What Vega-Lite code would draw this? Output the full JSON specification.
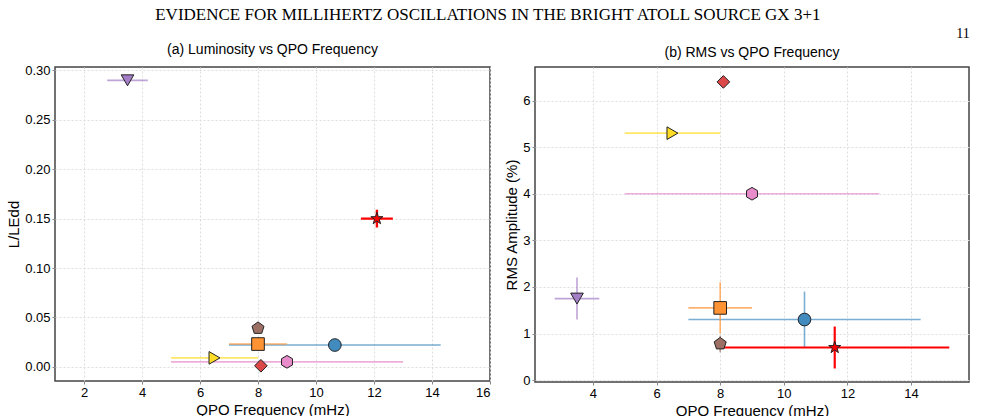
{
  "$schema": "https://vega.github.io/schema/vega-lite/v6.json",
  "title": {"text": "EVIDENCE FOR MILLIHERTZ OSCILLATIONS IN THE BRIGHT ATOLL SOURCE GX 3+1", "anchor": "middle", "font": "Liberation Serif", "fontSize": 17, "fontWeight": "normal", "color": "#000", "offset": 3},
  "vconcat": [
    {
      "title": {"text": "11", "anchor": "end", "font": "Liberation Serif", "fontSize": 14, "fontWeight": "normal", "color": "#000", "offset": 2},
      "spacing": 12,
      "resolve": {"scale": {"color": "independent", "shape": "independent"}, "legend": {"color": "independent", "shape": "independent"}},
      "hconcat": [
        {
          "width": 435,
          "height": 314,
          "title": {"text": "(a) Luminosity vs QPO Frequency", "fontSize": 14, "fontWeight": "normal", "color": "#000", "offset": 7},
          "data": {"values": [
            {"source": "4U 1636-536", "freq": 10.65, "freq_lo": 7.0, "freq_hi": 14.3, "lum": 0.022},
            {"source": "4U 1608-52", "freq": 8.0, "freq_lo": 7.0, "freq_hi": 9.0, "lum": 0.023},
            {"source": "4U 1323-619", "freq": 8.1, "lum": 0.001},
            {"source": "IGR J17480-2446", "freq": 3.5, "freq_lo": 2.8, "freq_hi": 4.2, "lum": 0.29},
            {"source": "GS 1826-238", "freq": 8.0, "lum": 0.039},
            {"source": "EXO 0748-676", "freq": 9.0, "freq_lo": 5.0, "freq_hi": 13.0, "lum": 0.005},
            {"source": "1RXS J180408.9-342058", "freq": 6.5, "freq_lo": 5.0, "freq_hi": 8.0, "lum": 0.009},
            {"source": "GX 3+1 (This work)", "freq": 12.1, "freq_lo": 11.55, "freq_hi": 12.65, "lum": 0.15, "lum_lo": 0.141, "lum_hi": 0.159}
          ]},
          "layer": [
            {
              "transform": [{"filter": {"and": [{"field": "freq_lo", "valid": true}, {"not": {"field": "source", "equal": "GX 3+1 (This work)"}}]}}],
              "mark": {"type": "rule", "strokeWidth": 1.6, "opacity": 0.7},
              "encoding": {
                "x": {"field": "freq_lo", "type": "quantitative", "scale": {"domain": [1, 16], "nice": false, "zero": false}, "axis": {"title": "QPO Frequency (mHz)", "values": [2, 4, 6, 8, 10, 12, 14, 16]}},
                "x2": {"field": "freq_hi"},
                "y": {"field": "lum", "type": "quantitative", "scale": {"domain": [-0.0144, 0.3035], "nice": false, "zero": false}, "axis": {"title": "L/LEdd", "values": [0, 0.05, 0.1, 0.15, 0.2, 0.25, 0.3], "format": ".2f"}},
                "color": {"field": "source", "type": "nominal", "legend": null,
                  "scale": {"domain": ["4U 1636-536", "GS 1826-238", "4U 1608-52", "EXO 0748-676", "4U 1323-619", "1RXS J180408.9-342058", "IGR J17480-2446", "GX 3+1 (This work)"],
                            "range": ["#418bbf", "#9d7066", "#ff9232", "#e78bcb", "#dc4748", "#ffdd26", "#a47ec7", "#ff0000"]}}
              }
            },
            {
              "transform": [{"filter": {"field": "source", "equal": "GX 3+1 (This work)"}}],
              "mark": {"type": "rule", "strokeWidth": 2.4, "color": "#ff0000"},
              "encoding": {
                "x": {"field": "freq_lo", "type": "quantitative"},
                "x2": {"field": "freq_hi"},
                "y": {"field": "lum", "type": "quantitative"}
              }
            },
            {
              "transform": [{"filter": {"field": "source", "equal": "GX 3+1 (This work)"}}],
              "mark": {"type": "rule", "strokeWidth": 2.4, "color": "#ff0000"},
              "encoding": {
                "x": {"field": "freq", "type": "quantitative"},
                "y": {"field": "lum_lo", "type": "quantitative"},
                "y2": {"field": "lum_hi"}
              }
            },
            {
              "mark": {"type": "point", "filled": true, "opacity": 1, "size": 160, "stroke": "#222", "strokeWidth": 1},
              "encoding": {
                "x": {"field": "freq", "type": "quantitative"},
                "y": {"field": "lum", "type": "quantitative"},
                "color": {"field": "source", "type": "nominal", "title": null,
                  "scale": {"domain": ["4U 1636-536", "GS 1826-238", "4U 1608-52", "EXO 0748-676", "4U 1323-619", "1RXS J180408.9-342058", "IGR J17480-2446", "GX 3+1 (This work)"],
                            "range": ["#418bbf", "#9d7066", "#ff9232", "#e78bcb", "#dc4748", "#ffdd26", "#a47ec7", "#ff0000"]},
                  "legend": {"columns": 2, "columnPadding": 14}},
                "shape": {"field": "source", "type": "nominal", "title": null,
                  "scale": {"domain": ["4U 1636-536", "GS 1826-238", "4U 1608-52", "EXO 0748-676", "4U 1323-619", "1RXS J180408.9-342058", "IGR J17480-2446", "GX 3+1 (This work)"],
                            "range": ["circle", "M0,-1L0.951,-0.309L0.588,0.809L-0.588,0.809L-0.951,-0.309Z", "square", "M0,-1L0.866,-0.5L0.866,0.5L0,1L-0.866,0.5L-0.866,-0.5Z", "diamond", "triangle-right", "triangle-down", "M0,-1L0.225,-0.309L0.951,-0.309L0.363,0.118L0.588,0.809L0,0.382L-0.588,0.809L-0.363,0.118L-0.951,-0.309L-0.225,-0.309Z"]},
                  "legend": {"columns": 2, "columnPadding": 14}}
              }
            }
          ]
        },
        {
          "width": 434,
          "height": 315,
          "title": {"text": "(b) RMS vs QPO Frequency", "fontSize": 14, "fontWeight": "normal", "color": "#000", "offset": 7},
          "data": {"values": [
            {"source": "4U 1636-536", "freq": 10.65, "freq_lo": 7.0, "freq_hi": 14.3, "rms": 1.3, "rms_lo": 0.7, "rms_hi": 1.9},
            {"source": "4U 1608-52", "freq": 8.0, "freq_lo": 7.0, "freq_hi": 9.0, "rms": 1.55, "rms_lo": 1.0, "rms_hi": 2.1},
            {"source": "4U 1323-619", "freq": 8.1, "rms": 6.4},
            {"source": "IGR J17480-2446", "freq": 3.5, "freq_lo": 2.8, "freq_hi": 4.2, "rms": 1.75, "rms_lo": 1.3, "rms_hi": 2.2},
            {"source": "GS 1826-238", "freq": 8.0, "rms": 0.78, "rms_lo": 0.6, "rms_hi": 0.95},
            {"source": "EXO 0748-676", "freq": 9.0, "freq_lo": 5.0, "freq_hi": 13.0, "rms": 4.0},
            {"source": "1RXS J180408.9-342058", "freq": 6.5, "freq_lo": 5.0, "freq_hi": 8.0, "rms": 5.3},
            {"source": "GX 3+1 (This work)", "freq": 11.6, "freq_lo": 8.0, "freq_hi": 15.2, "rms": 0.7, "rms_lo": 0.25, "rms_hi": 1.15}
          ]},
          "layer": [
            {
              "transform": [{"filter": {"and": [{"field": "freq_lo", "valid": true}, {"not": {"field": "source", "equal": "GX 3+1 (This work)"}}]}}],
              "mark": {"type": "rule", "strokeWidth": 1.6, "opacity": 0.7},
              "encoding": {
                "x": {"field": "freq_lo", "type": "quantitative", "scale": {"domain": [2.18, 15.82], "nice": false, "zero": false}, "axis": {"title": "QPO Frequency (mHz)", "values": [4, 6, 8, 10, 12, 14]}},
                "x2": {"field": "freq_hi"},
                "y": {"field": "rms", "type": "quantitative", "scale": {"domain": [-0.04, 6.72], "nice": false, "zero": false}, "axis": {"title": "RMS Amplitude (%)", "values": [0, 1, 2, 3, 4, 5, 6]}},
                "color": {"field": "source", "type": "nominal", "legend": null,
                  "scale": {"domain": ["4U 1636-536", "4U 1608-52", "4U 1323-619", "IGR J17480-2446", "GS 1826-238", "EXO 0748-676", "1RXS J180408.9-342058", "GX 3+1 (This work)"],
                            "range": ["#418bbf", "#ff9232", "#dc4748", "#a47ec7", "#9d7066", "#e78bcb", "#ffdd26", "#ff0000"]}}
              }
            },
            {
              "transform": [{"filter": {"and": [{"field": "rms_lo", "valid": true}, {"not": {"field": "source", "equal": "GX 3+1 (This work)"}}]}}],
              "mark": {"type": "rule", "strokeWidth": 1.6, "opacity": 0.7},
              "encoding": {
                "x": {"field": "freq", "type": "quantitative"},
                "y": {"field": "rms_lo", "type": "quantitative"},
                "y2": {"field": "rms_hi"},
                "color": {"field": "source", "type": "nominal", "legend": null,
                  "scale": {"domain": ["4U 1636-536", "4U 1608-52", "4U 1323-619", "IGR J17480-2446", "GS 1826-238", "EXO 0748-676", "1RXS J180408.9-342058", "GX 3+1 (This work)"],
                            "range": ["#418bbf", "#ff9232", "#dc4748", "#a47ec7", "#9d7066", "#e78bcb", "#ffdd26", "#ff0000"]}}
              }
            },
            {
              "transform": [{"filter": {"field": "source", "equal": "GX 3+1 (This work)"}}],
              "mark": {"type": "rule", "strokeWidth": 2.2, "color": "#ff0000"},
              "encoding": {
                "x": {"field": "freq_lo", "type": "quantitative"},
                "x2": {"field": "freq_hi"},
                "y": {"field": "rms", "type": "quantitative"}
              }
            },
            {
              "transform": [{"filter": {"field": "source", "equal": "GX 3+1 (This work)"}}],
              "mark": {"type": "rule", "strokeWidth": 2.2, "color": "#ff0000"},
              "encoding": {
                "x": {"field": "freq", "type": "quantitative"},
                "y": {"field": "rms_lo", "type": "quantitative"},
                "y2": {"field": "rms_hi"}
              }
            },
            {
              "mark": {"type": "point", "filled": true, "opacity": 1, "size": 160, "stroke": "#222", "strokeWidth": 1},
              "encoding": {
                "x": {"field": "freq", "type": "quantitative"},
                "y": {"field": "rms", "type": "quantitative"},
                "color": {"field": "source", "type": "nominal", "title": null,
                  "scale": {"domain": ["4U 1636-536", "4U 1608-52", "4U 1323-619", "IGR J17480-2446", "GS 1826-238", "EXO 0748-676", "1RXS J180408.9-342058", "GX 3+1 (This work)"],
                            "range": ["#418bbf", "#ff9232", "#dc4748", "#a47ec7", "#9d7066", "#e78bcb", "#ffdd26", "#ff0000"]}},
                "shape": {"field": "source", "type": "nominal", "title": null,
                  "scale": {"domain": ["4U 1636-536", "4U 1608-52", "4U 1323-619", "IGR J17480-2446", "GS 1826-238", "EXO 0748-676", "1RXS J180408.9-342058", "GX 3+1 (This work)"],
                            "range": ["circle", "square", "diamond", "triangle-down", "M0,-1L0.951,-0.309L0.588,0.809L-0.588,0.809L-0.951,-0.309Z", "M0,-1L0.866,-0.5L0.866,0.5L0,1L-0.866,0.5L-0.866,-0.5Z", "triangle-right", "M0,-1L0.225,-0.309L0.951,-0.309L0.363,0.118L0.588,0.809L0,0.382L-0.588,0.809L-0.363,0.118L-0.951,-0.309L-0.225,-0.309Z"]}}
              }
            }
          ]
        }
      ]
    }
  ],
  "config": {
    "font": "Liberation Sans",
    "view": {"stroke": "#444", "strokeWidth": 1.5},
    "axis": {"labelFontSize": 13, "labelColor": "#000", "titleFontSize": 15, "titleFontWeight": "normal", "titleColor": "#000", "titlePadding": 3, "tickSize": 3, "domain": false, "gridColor": "#dddddd", "gridDash": [2, 2]},
    "legend": {"orient": "top-right", "offset": 5, "labelFontSize": 11, "labelColor": "#000", "symbolSize": 70, "symbolStrokeColor": "#333", "symbolStrokeWidth": 1, "fillColor": "#fff", "strokeColor": "#cccccc", "padding": 6, "cornerRadius": 3, "rowPadding": 2}
  }
}
